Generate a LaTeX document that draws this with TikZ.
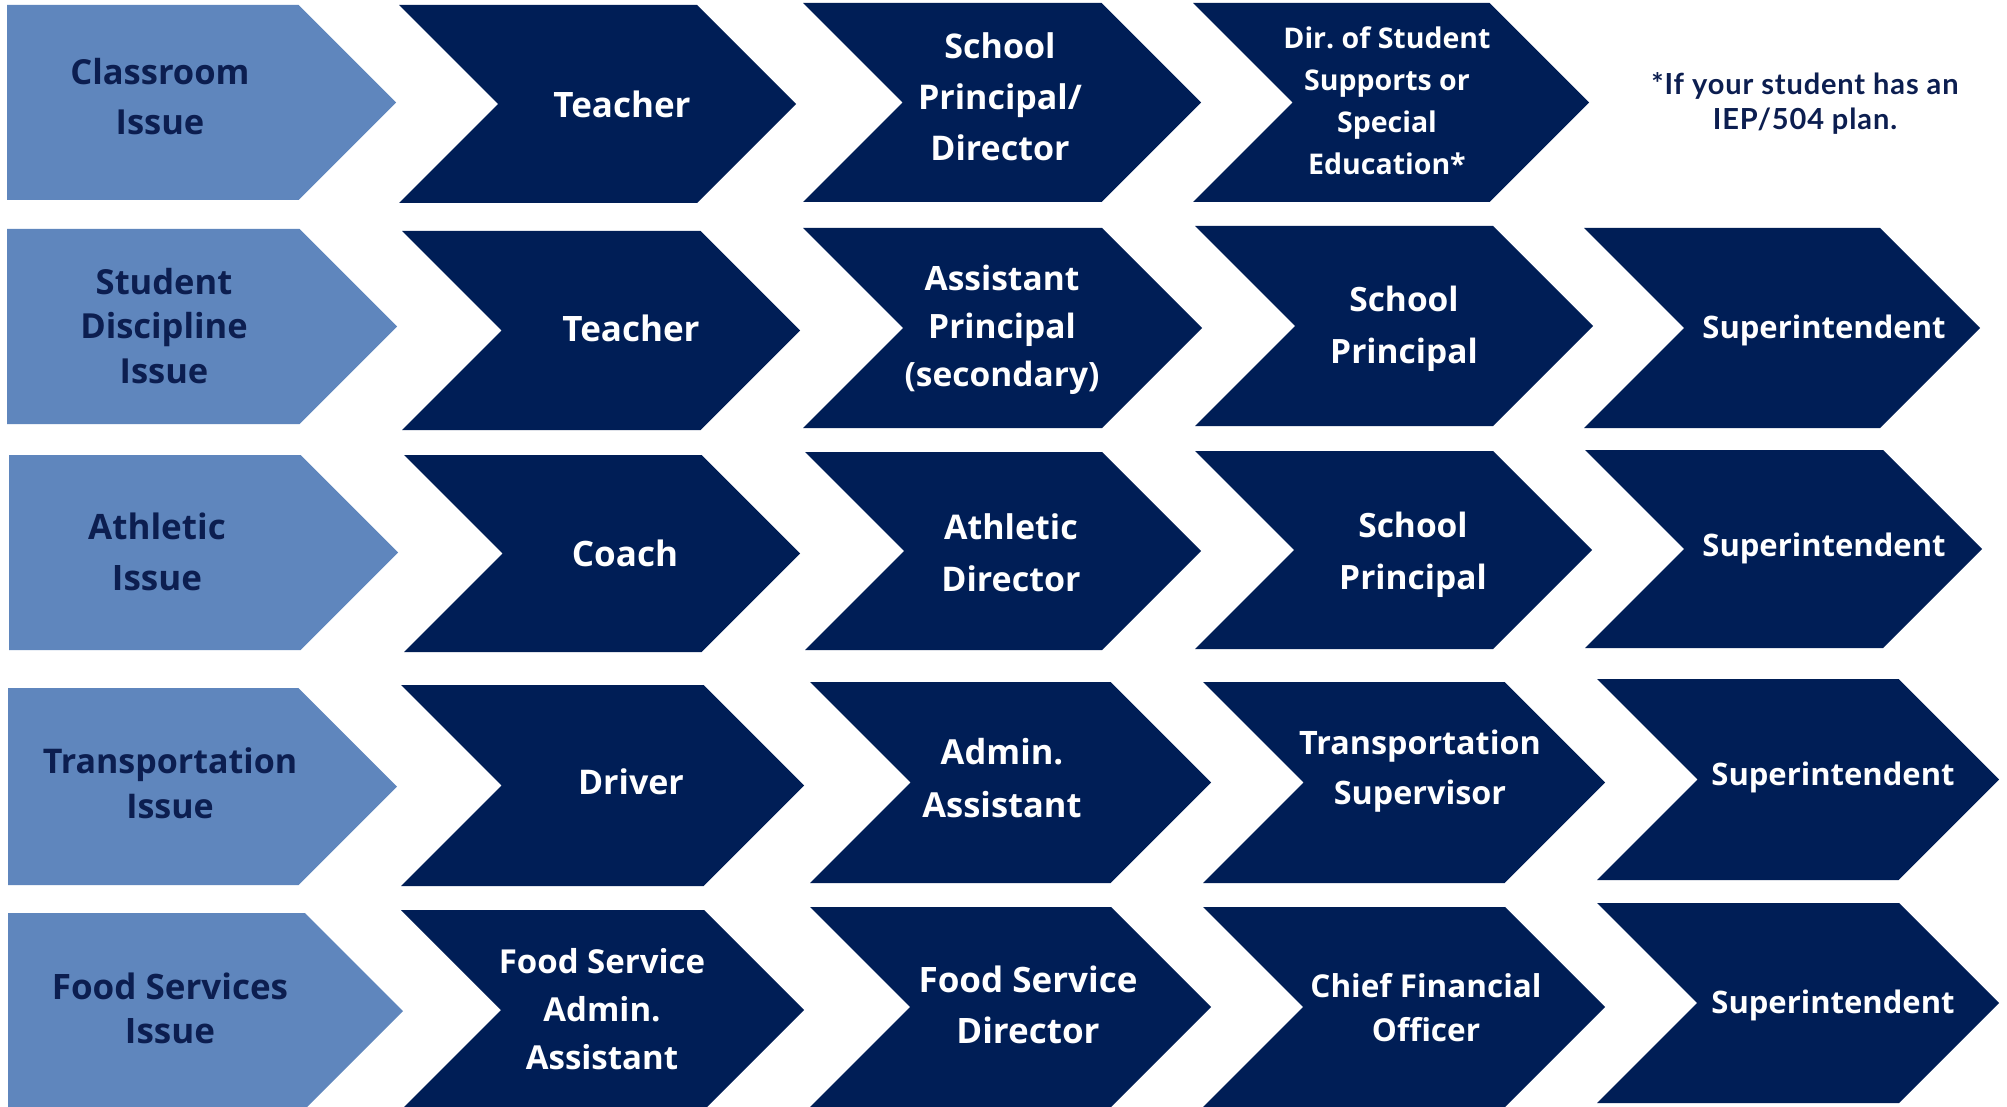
\documentclass[tikz,border=0pt]{standalone}
\usepackage{fontspec}
\setmainfont{Open Sans}
\newfontfamily\notefont{Lato}[LetterSpace=3]
\definecolor{navy}{RGB}{0,30,86}
\definecolor{lightb}{RGB}{95,134,189}
\definecolor{darktxt}{RGB}{12,30,80}
\newcommand{\mychev}[4]{\fill[navy] (#1,#2) -- ({#4-(#3-#2)/2},#2) -- (#4,{(#2+#3)/2}) -- ({#4-(#3-#2)/2},#3) -- (#1,#3) -- ({#1+(#3-#2)/2},{(#2+#3)/2}) -- cycle;}
\newcommand{\mypent}[4]{\fill[lightb] (#1,#2) -- ({#4-(#3-#2)/2},#2) -- (#4,{(#2+#3)/2}) -- ({#4-(#3-#2)/2},#3) -- (#1,#3) -- cycle;}
\newcommand{\fs}[2]{\bfseries\fontsize{#1}{#2}\selectfont}
\tikzset{
  wlbl/.style={align=center, text=white, inner sep=0pt},
  dlbl/.style={align=center, text=darktxt, inner sep=0pt},
}
\begin{document}
\frenchspacing
\begin{tikzpicture}[x=1pt,y=-1pt]
\useasboundingbox (0,0) rectangle (2007,1107);
\fill[white] (0,0) rectangle (2007,1107);
% Row 1
\mypent{7}{5}{200}{396}
\mychev{399}{5}{203}{796}
\mychev{803}{3}{202}{1201}
\mychev{1193}{3}{202}{1589}
% Row 2
\mypent{7}{229}{424}{397}
\mychev{402}{231}{430}{800}
\mychev{803}{228}{428}{1202}
\mychev{1195}{226}{426}{1593}
\mychev{1584}{228}{428}{1980}
% Row 3
\mypent{9}{455}{650}{398}
\mychev{404}{455}{652}{800}
\mychev{805}{452}{650}{1201}
\mychev{1195}{451}{649}{1592}
\mychev{1585}{450}{648}{1982}
% Row 4
\mypent{8}{688}{885}{397}
\mychev{401}{685}{886}{804}
\mychev{810}{682}{883}{1211}
\mychev{1203}{682}{883}{1605}
\mychev{1597}{679}{880}{1999}
% Row 5
\mypent{8}{913}{1109}{403}
\mychev{401}{910}{1110}{804}
\mychev{810}{907}{1107}{1211}
\mychev{1203}{907}{1107}{1605}
\mychev{1597}{903}{1103}{1999}

% Row 1 texts
\node[dlbl, font=\fs{34.5}{50}] (r1a) at (160,97) {Classroom\\Issue};
\node[wlbl, font=\fs{35}{50}] (r1b) at (622,104) {Teacher};
\node[wlbl, font=\fs{34}{51}] (r1c) at (1000,97) {School\\Principal/\\Director};
\node[wlbl, font=\fs{28.5}{42}] (r1d) at (1387,101) {Dir. of Student\\Supports or\\Special\\Education*};
\node[align=center, text=darktxt, inner sep=0pt, font=\notefont\bfseries\fontsize{29}{35}\selectfont] (note) at (1805,103) {*If your student has an\\IEP/504 plan.};
% Row 2 texts
\node[dlbl, font=\fs{34.5}{44.5}] (r2a) at (164,326) {Student\\Discipline\\Issue};
\node[wlbl, font=\fs{35}{50}] (r2b) at (631,328) {Teacher};
\node[wlbl, font=\fs{33.5}{48}] (r2c) at (1002,330) {Assistant\\Principal\\(secondary)};
\node[wlbl, font=\fs{33.5}{52}] (r2d) at (1404,329) {School\\Principal};
\node[wlbl, font=\fs{31}{40}] (r2e) at (1824,330) {Superintendent};
% Row 3 texts
\node[dlbl, font=\fs{35}{51}] (r3a) at (157,552) {Athletic\\Issue};
\node[wlbl, font=\fs{35}{50}] (r3b) at (625,553) {Coach};
\node[wlbl, font=\fs{34}{52}] (r3c) at (1011,553) {Athletic\\Director};
\node[wlbl, font=\fs{33.5}{52}] (r3d) at (1413,555) {School\\Principal};
\node[wlbl, font=\fs{31}{40}] (r3e) at (1824,548) {Superintendent};
% Row 4 texts
\node[dlbl, font=\fs{34}{45}] (r4a) at (170,783) {Transportation\\Issue};
\node[wlbl, font=\fs{34}{50}] (r4b) at (631,782) {Driver};
\node[wlbl, font=\fs{34.5}{53}] (r4c) at (1002,778) {Admin.\\Assistant};
\node[wlbl, font=\fs{32.3}{50}] (r4d) at (1420,771) {Transportation\\Supervisor};
\node[wlbl, font=\fs{31}{40}] (r4e) at (1833,777) {Superintendent};
% Row 5 texts
\node[dlbl, font=\fs{35}{44}] (r5a) at (170,1008) {Food Services\\Issue};
\node[wlbl, font=\fs{33}{48}] (r5b) at (602,1009) {Food Service\\Admin.\\Assistant};
\node[wlbl, font=\fs{35}{51}] (r5c) at (1028,1005) {Food Service\\Director};
\node[wlbl, font=\fs{31.5}{44}] (r5d) at (1426,1008) {Chief Financial\\Officer};
\node[wlbl, font=\fs{31}{40}] (r5e) at (1833,1005) {Superintendent};
\end{tikzpicture}
\end{document}
